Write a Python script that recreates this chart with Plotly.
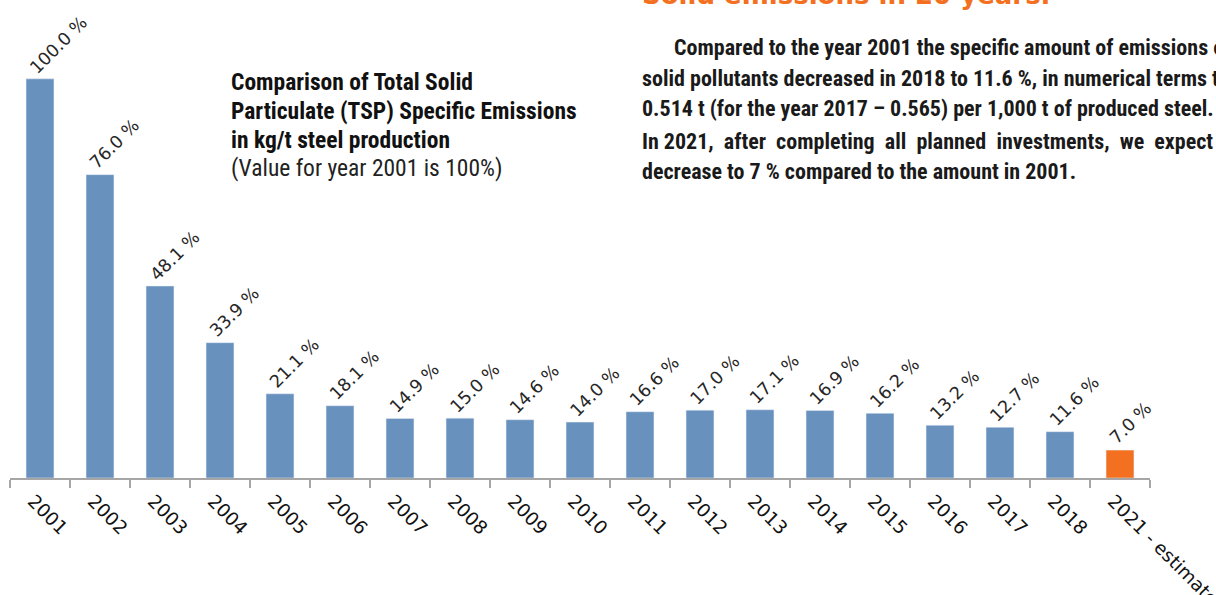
import plotly.graph_objects as go

# --- data ---
years = ["2001", "2002", "2003", "2004", "2005", "2006", "2007", "2008", "2009", "2010",
         "2011", "2012", "2013", "2014", "2015", "2016", "2017", "2018", "2021 - estimate"]
values = [100.0, 76.0, 48.1, 33.9, 21.1, 18.1, 14.9, 15.0, 14.6, 14.0,
          16.6, 17.0, 17.1, 16.9, 16.2, 13.2, 12.7, 11.6, 7.0]
labels = [f"{v:.1f} %" for v in values]

BLUE = "#6891BD"
ORANGE = "#F37021"
colors = [BLUE] * (len(values) - 1) + [ORANGE]

W, H = 1216, 595
L, R, T, B = 10, 66, 19, 117
PW, PH = W - L - R, H - T - B


def px(x, y):
    """pixel position on the page -> paper coordinates"""
    return (x - L) / PW, 1 - (y - T) / PH


fig = go.Figure()
fig.add_trace(go.Bar(
    x=years, y=values, marker_color=colors, width=0.465,
    hoverinfo="x+y",
))

# rotated value labels above each bar (x given as category index)
for i, (v, lab) in enumerate(zip(values, labels)):
    fig.add_annotation(
        x=i, y=v, xref="x", yref="y", text=lab, textangle=-45,
        showarrow=False, xanchor="left", yanchor="bottom", xshift=-17, yshift=-1,
        font=dict(family="DejaVu Sans", size=17.5, color="#262626"),
    )

# chart title block
title_font = dict(family="Liberation Sans Narrow, Roboto Condensed, Arial Narrow, sans-serif",
                  size=23.5, color="#111111")
title_lines = [
    ("<b>Comparison of Total Solid</b>", 82),
    ("<b>Particulate (TSP) Specific Emissions</b>", 111),
    ("<b>in kg/t steel production</b>", 140),
]
for txt, yc in title_lines:
    xp, yp = px(232, yc)
    fig.add_annotation(x=xp, y=yp, xref="paper", yref="paper", text=txt, showarrow=False,
                       xanchor="left", yanchor="middle", xshift=-3, font=title_font)
xp, yp = px(232, 168)
fig.add_annotation(x=xp, y=yp, xref="paper", yref="paper",
                   text="(Value for year 2001 is 100%)", showarrow=False,
                   xanchor="left", yanchor="middle", xshift=-3,
                   font=dict(family="Liberation Sans Narrow, Roboto Condensed, sans-serif",
                             size=23.5, color="#222222"))

# cut-off heading and paragraph on the right
xp, yp = px(643, 12)
fig.add_annotation(x=xp, y=yp, xref="paper", yref="paper",
                   text="<b>Solid emissions in 20 years.</b>", showarrow=False,
                   xanchor="left", yanchor="bottom", xshift=-3,
                   font=dict(family="DejaVu Sans", size=26, color=ORANGE))

para_font = dict(family="Liberation Sans Narrow, Roboto Condensed, Arial Narrow, sans-serif",
                 size=22, color="#1a1a1a")
para_lines = [
    ("<b>Compared to the year 2001 the specific amount of emissions of</b>", 675, 47),
    ("<b>solid pollutants decreased in 2018 to 11.6 %, in numerical terms to</b>", 643, 78),
    ("<b>0.514 t (for the year 2017 – 0.565) per 1,000 t of produced steel.</b>", 643, 109),
    ("<b>In 2021,  after  completing  all  planned  investments,  we  expect  a</b>", 643, 141),
    ("<b>decrease to 7 % compared to the amount in 2001.</b>", 643, 172),
]
for txt, x0, yc in para_lines:
    xp, yp = px(x0, yc)
    fig.add_annotation(x=xp, y=yp, xref="paper", yref="paper", text=txt, showarrow=False,
                       xanchor="left", yanchor="middle", xshift=-3, font=para_font)

fig.update_layout(
    width=W, height=H,
    margin=dict(l=L, r=R, t=T, b=B),
    plot_bgcolor="white", paper_bgcolor="white",
    showlegend=False,
    bargap=0.5,
)
fig.update_xaxes(
    type="category", showline=True, linecolor="#A6A6A6", linewidth=2,
    ticks="outside", tickson="boundaries", ticklen=8, tickcolor="#A6A6A6", tickwidth=2,
    tickangle=45, tickfont=dict(family="DejaVu Sans", size=18.5, color="#111111"),
    ticklabelshift=-7, ticklabelstandoff=3,
    showgrid=False, range=[-0.5, len(years) - 0.5], automargin=False,
)
fig.update_yaxes(range=[0, 115], visible=False, showgrid=False, zeroline=False,
                 automargin=False)

# the page's default body margin would push the chart 8px off
fig.write_html("out.html", config={"displayModeBar": False},
               post_script="document.body.style.margin='0';")
